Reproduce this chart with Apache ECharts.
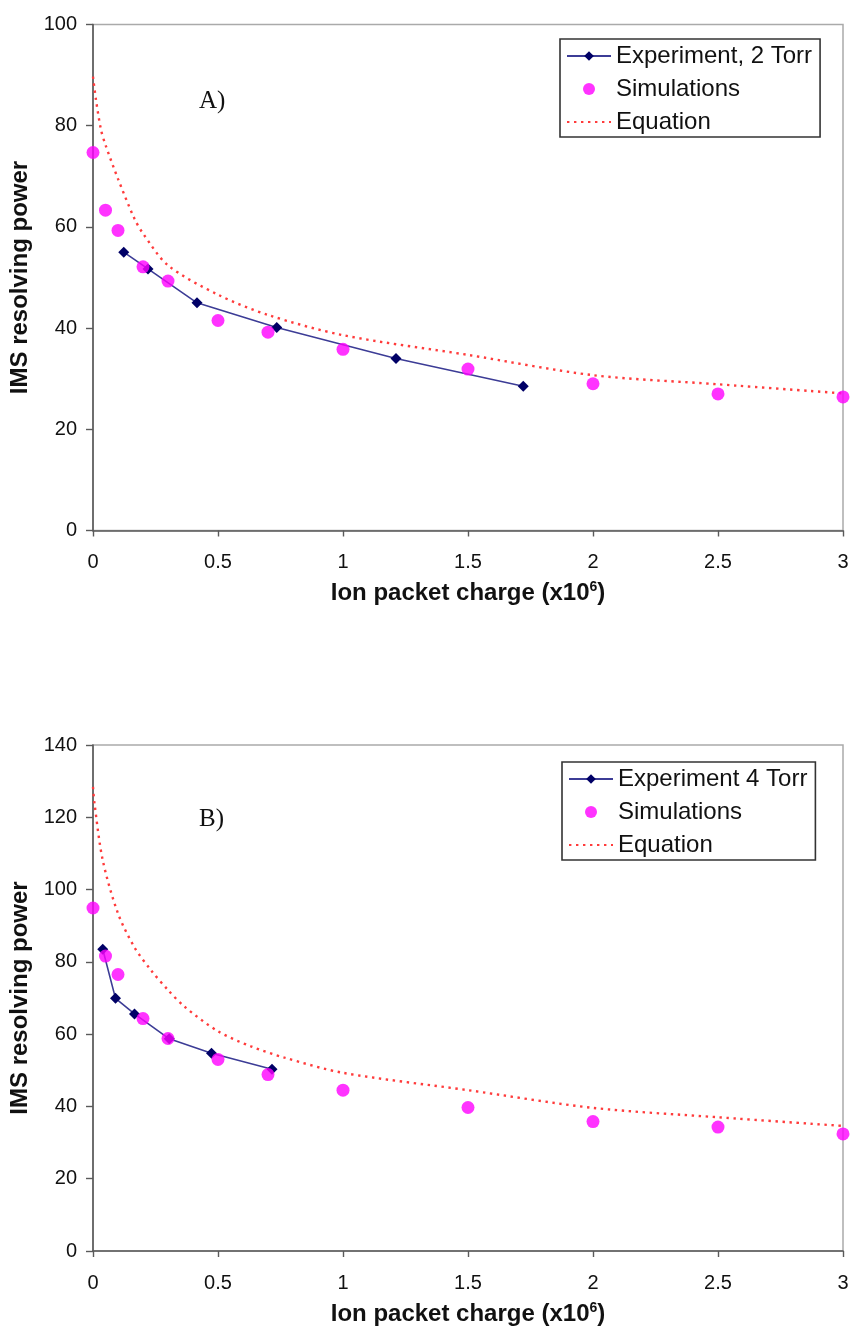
<!DOCTYPE html>
<html>
<head>
<meta charset="utf-8">
<script src="https://cdn.jsdelivr.net/npm/echarts@6/dist/echarts.min.js"></script>
<style>
html,body{margin:0;padding:0;background:#fff;}
#chart{width:852px;height:1328px;}
</style>
</head>
<body>
<div id="chart"></div>
<script>
// ---- Data ----
var xTicks = [0, 0.5, 1, 1.5, 2, 2.5, 3];

// Panel A (2 Torr)
var simXA = [0, 0.05, 0.1, 0.2, 0.3, 0.5, 0.7, 1, 1.5, 2, 2.5, 3];
var simYA = [74.7, 63.3, 59.3, 52.1, 49.3, 41.5, 39.2, 35.8, 31.9, 29.0, 27.0, 26.4];
var expXA = [0.123, 0.22, 0.416, 0.735, 1.212, 1.721];
var expYA = [55.0, 51.7, 45.0, 40.1, 34.0, 28.5];
var eqXA = [0, 0.012, 0.032, 0.05, 0.1, 0.166, 0.2, 0.3, 0.5, 0.7, 1, 1.5, 2, 2.5, 3];
var eqYA = [89.7, 85.1, 79.2, 76.2, 69.5, 61.6, 58.7, 52.4, 46.6, 42.6, 38.6, 34.7, 30.7, 28.9, 27.1];

// Panel B (4 Torr)
var simXB = [0, 0.05, 0.1, 0.2, 0.3, 0.5, 0.7, 1, 1.5, 2, 2.5, 3];
var simYB = [94.9, 81.6, 76.5, 64.3, 58.8, 53.0, 48.8, 44.5, 39.7, 35.8, 34.3, 32.4];
var expXB = [0.039, 0.09, 0.166, 0.305, 0.474, 0.716];
var expYB = [83.5, 69.9, 65.6, 58.7, 54.7, 50.3];
var eqXB = [0, 0.006, 0.039, 0.1, 0.166, 0.232, 0.3, 0.366, 0.5, 0.632, 0.766, 1, 1.5, 2, 2.5, 3];
var eqYB = [128.4, 123.8, 108.1, 93.4, 84.0, 77.7, 72.2, 67.6, 60.8, 56.6, 53.5, 49.3, 44.5, 39.6, 37.0, 34.6];

var namesA = ['Experiment, 2 Torr', 'Simulations', 'Equation'];
var namesB = ['Experiment 4 Torr', 'Simulations', 'Equation'];
var panelLabels = ['A)', 'B)'];
var xTitle = 'Ion packet charge (x10{sup|6})';
var yTitle = 'IMS resolving power';

function pairs(xs, ys) { return xs.map(function (x, i) { return [x, ys[i]]; }); }

var FONT = '"Liberation Sans", Arial, sans-serif';
var axisColor = '#5a5a5a';

function xAxisCfg(gi) {
  return {
    type: 'value', gridIndex: gi, min: 0, max: 3, interval: 0.5,
    name: xTitle, nameLocation: 'middle', nameGap: 50,
    nameTextStyle: {
      fontFamily: FONT, fontSize: 24, fontWeight: 'bold', color: '#111',
      rich: { sup: { fontFamily: FONT, fontSize: 14, fontWeight: 'bold', color: '#111', verticalAlign: 'top', padding: [0, 0, 12, 0] } }
    },
    axisLine: { show: true, onZero: false, lineStyle: { color: axisColor, width: 1.6 } },
    axisTick: { show: true, inside: false, length: 6, lineStyle: { color: axisColor, width: 1.4 } },
    axisLabel: { margin: 22, fontFamily: FONT, fontSize: 20, color: '#111' },
    splitLine: { show: false }
  };
}
function yAxisCfg(gi, max) {
  return {
    type: 'value', gridIndex: gi, min: 0, max: max, interval: 20,
    name: yTitle, nameLocation: 'middle', nameRotate: 90, nameGap: 52,
    nameTextStyle: { fontFamily: FONT, fontSize: 24, fontWeight: 'bold', color: '#111' },
    axisLine: { show: true, onZero: false, lineStyle: { color: axisColor, width: 1.6 } },
    axisTick: { show: true, inside: false, length: 7, lineStyle: { color: axisColor, width: 1.4 } },
    axisLabel: { margin: 16, fontFamily: FONT, fontSize: 20, color: '#111' },
    splitLine: { show: false }
  };
}
function seriesFor(gi, names, ex, ey, sx, sy, qx, qy) {
  return [
    {
      name: names[2], type: 'line', xAxisIndex: gi, yAxisIndex: gi,
      data: pairs(qx, qy), symbol: 'none', smooth: 0.3, z: 2,
      lineStyle: { color: '#ff3b3b', width: 2.4, type: [2.4, 4.6] },
      itemStyle: { color: '#ff3b3b' }
    },
    {
      name: names[0], type: 'line', xAxisIndex: gi, yAxisIndex: gi,
      data: pairs(ex, ey), symbol: 'diamond', symbolSize: 11, z: 3,
      lineStyle: { color: '#3c3c96', width: 1.6 },
      itemStyle: { color: '#000066' }
    },
    {
      name: names[1], type: 'scatter', xAxisIndex: gi, yAxisIndex: gi,
      data: pairs(sx, sy), symbol: 'circle', symbolSize: 13, z: 4,
      itemStyle: { color: '#ff00ff' }
    }
  ];
}
function legendCfg(left, top, names) {
  return {
    orient: 'vertical', left: left, top: top,
    data: [
      { name: names[0] },
      { name: names[1] },
      { name: names[2], itemStyle: { opacity: 0 } }
    ],
    backgroundColor: '#fff', borderColor: '#333', borderWidth: 1.6,
    padding: [5, 8, 3, 6], itemWidth: 44, itemHeight: 12, itemGap: 9,
    textStyle: { fontFamily: FONT, fontSize: 24, color: '#111', lineHeight: 24 },
    selectedMode: false
  };
}

var chart = echarts.init(document.getElementById('chart'), null, { renderer: 'canvas' });
chart.setOption({
  animation: false,
  backgroundColor: '#fff',
  title: [
    { text: panelLabels[0], left: 194, top: 84, textStyle: { fontFamily: '"Liberation Serif", "Times New Roman", serif', fontSize: 25, fontWeight: 'normal', color: '#111' } },
    { text: panelLabels[1], left: 194, top: 802, textStyle: { fontFamily: '"Liberation Serif", "Times New Roman", serif', fontSize: 25, fontWeight: 'normal', color: '#111' } }
  ],
  grid: [
    { left: 93, top: 24.5, width: 750, height: 506, show: true, borderColor: '#aaaaaa', borderWidth: 1.5, backgroundColor: 'transparent' },
    { left: 93, top: 745, width: 750, height: 506, show: true, borderColor: '#aaaaaa', borderWidth: 1.5, backgroundColor: 'transparent' }
  ],
  xAxis: [xAxisCfg(0), xAxisCfg(1)],
  yAxis: [yAxisCfg(0, 100), yAxisCfg(1, 140)],
  legend: [legendCfg(560, 39, namesA), legendCfg(562, 762, namesB)],
  series: [].concat(
    seriesFor(0, namesA, expXA, expYA, simXA, simYA, eqXA, eqYA),
    seriesFor(1, namesB, expXB, expYB, simXB, simYB, eqXB, eqYB)
  )
});
</script>
</body>
</html>
